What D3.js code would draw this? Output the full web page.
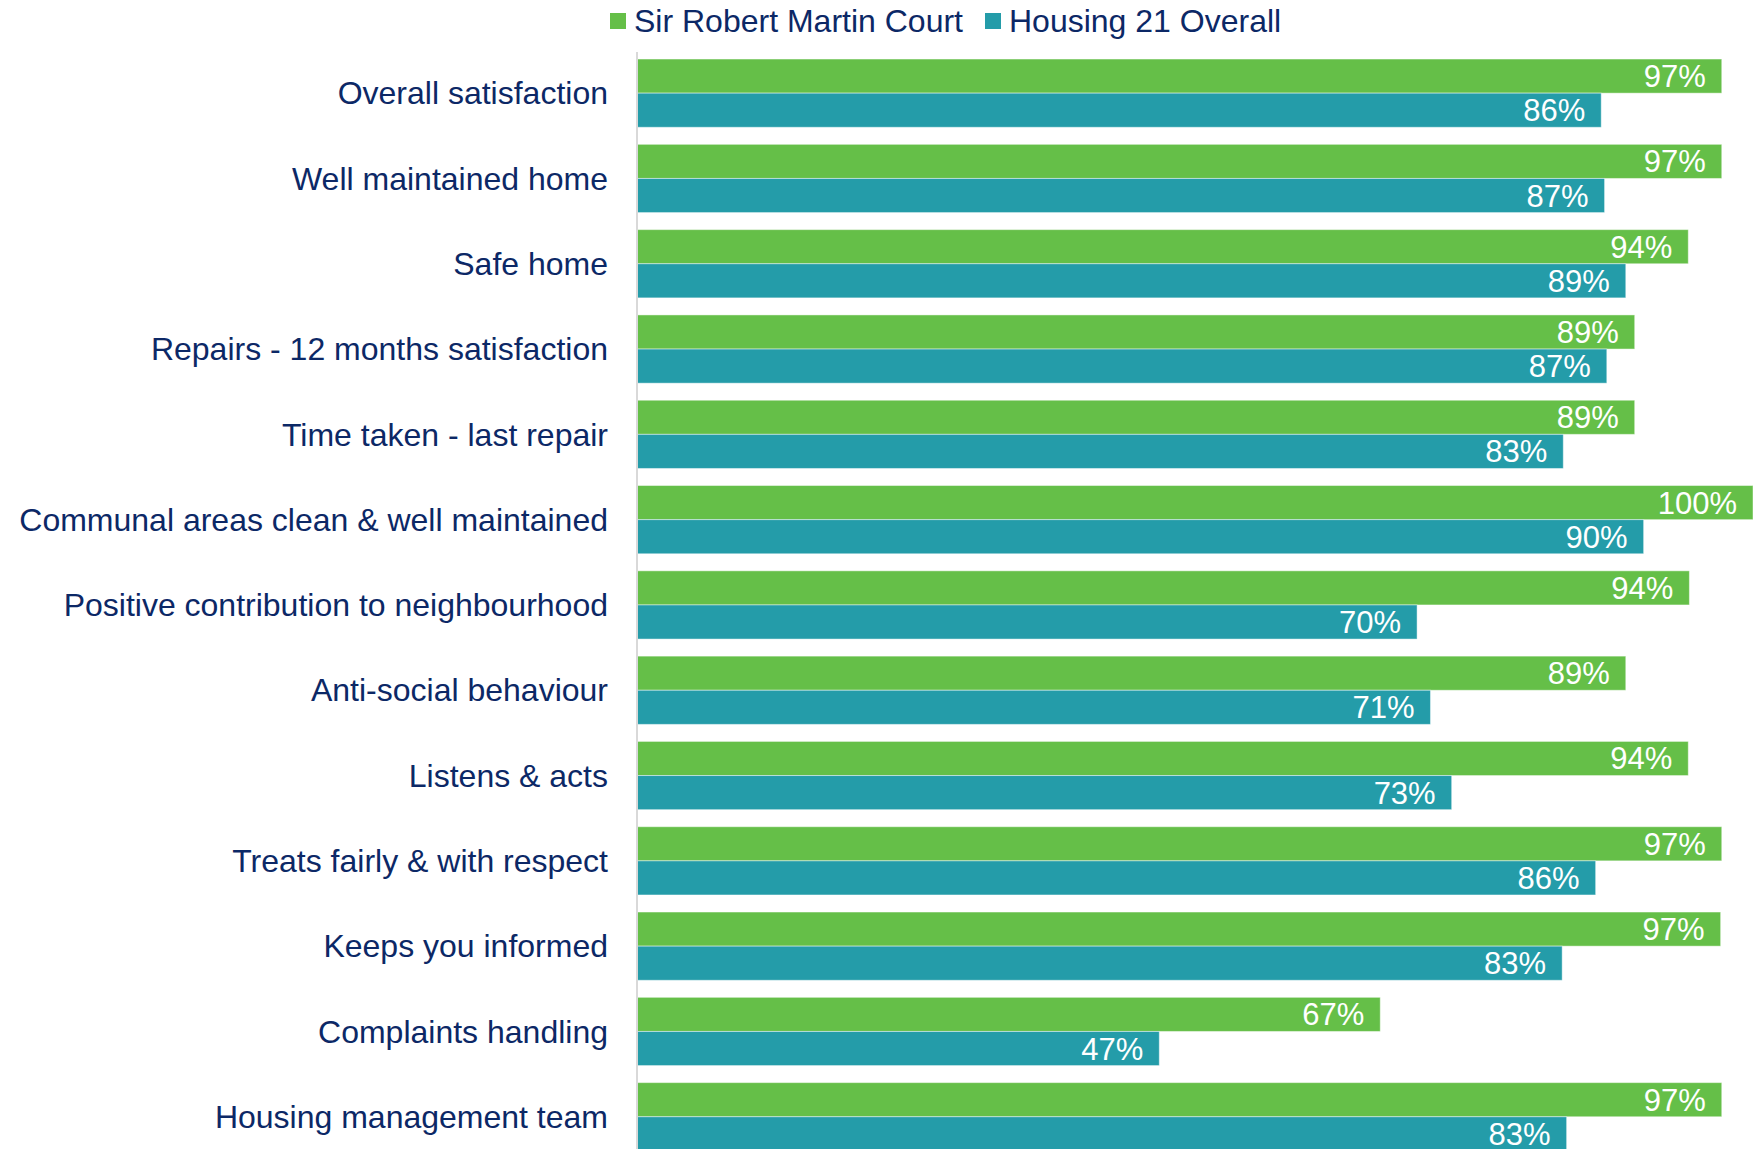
<!DOCTYPE html>
<html>
<head>
<meta charset="utf-8">
<script src="https://cdn.jsdelivr.net/npm/d3@7"></script>
<style>
  body { margin: 0; background: #fff; }
  svg { display: block; font-family: "Liberation Sans", Arial, sans-serif; }
</style>
</head>
<body>
<div id="chart"></div>
<script>
// --------------------
// DATA
// --------------------
const categories = [
  "Overall satisfaction",
  "Well maintained home",
  "Safe home",
  "Repairs - 12 months satisfaction",
  "Time taken - last repair",
  "Communal areas clean & well maintained",
  "Positive contribution to neighbourhood",
  "Anti-social behaviour",
  "Listens & acts",
  "Treats fairly & with respect",
  "Keeps you informed",
  "Complaints handling",
  "Housing management team"
];

const seriesNames = ["Sir Robert Martin Court", "Housing 21 Overall"];

const courtValues = [97.2, 97.2, 94.2, 89.4, 89.4, 100, 94.3, 88.6, 94.2, 97.2, 97.1, 66.6, 97.2];
const overallValues = [86.4, 86.7, 88.6, 86.9, 83.0, 90.2, 69.9, 71.1, 73.0, 85.9, 82.9, 46.8, 83.3];

const colors = ["#65bf48", "#249ca9"];
const textColor = "#0c2866";

// --------------------
// CHART
// --------------------
const width = 1762;
const height = 1149;

const svg = d3.select("#chart")
  .append("svg")
  .attr("width", width)
  .attr("height", height);

const x = d3.scaleLinear()
  .domain([0, 100])
  .range([637, 1753]);

const y = d3.scaleBand()
  .domain(categories)
  .range([50.5, 50.5 + 13 * 85.3])
  .paddingInner(0.2)
  .paddingOuter(0.1);

const inner = d3.scaleBand()
  .domain(seriesNames)
  .range([0, y.bandwidth()]);

const rows = categories.map((c, i) => ({
  category: c,
  values: [courtValues[i], overallValues[i]]
}));

const groups = svg.append("g")
  .selectAll("g")
  .data(rows)
  .join("g")
  .attr("transform", d => `translate(0,${y(d.category)})`);

groups.selectAll("rect")
  .data(d => d.values.map((v, k) => ({ series: seriesNames[k], k, v })))
  .join("rect")
  .attr("x", x(0))
  .attr("y", d => inner(d.series))
  .attr("width", d => x(d.v) - x(0))
  .attr("height", inner.bandwidth())
  .attr("fill", d => colors[d.k])
  .attr("stroke", "#ffffff")
  .attr("stroke-opacity", 0.45)
  .attr("stroke-width", 1);

// value labels
groups.selectAll("text.value")
  .data(d => d.values.map((v, k) => ({ series: seriesNames[k], k, v })))
  .join("text")
  .attr("class", "value")
  .attr("x", d => x(d.v) - 16)
  .attr("y", d => inner(d.series) + inner.bandwidth() / 2 + 11)
  .attr("text-anchor", "end")
  .attr("fill", "#ffffff")
  .style("font-size", "31px")
  .text(d => Math.round(d.v) + "%");

// Axis (category labels)
const yAxis = svg.append("g")
  .attr("transform", `translate(${x(0)},0)`)
  .call(d3.axisLeft(y).tickSize(0).tickPadding(29));

yAxis.select(".domain")
  .attr("d", `M0,52V${height}`)
  .attr("stroke", "#d9d9d9")
  .attr("stroke-width", 2);

yAxis.selectAll("text")
  .attr("fill", textColor)
  .style("font-size", "32px")
  .style("font-family", "'Liberation Sans', Arial, sans-serif")
  .attr("dy", "0.35em");

// --------------------
// LEGEND
// --------------------
const legendItems = [
  { name: seriesNames[0], color: colors[0], x: 610 },
  { name: seriesNames[1], color: colors[1], x: 985 }
];

const legend = svg.append("g");

legend.selectAll("rect")
  .data(legendItems)
  .join("rect")
  .attr("x", d => d.x)
  .attr("y", 13)
  .attr("width", 16)
  .attr("height", 16)
  .attr("fill", d => d.color);

legend.selectAll("text")
  .data(legendItems)
  .join("text")
  .attr("x", d => d.x + 24)
  .attr("y", 32)
  .attr("fill", textColor)
  .style("font-size", "32px")
  .text(d => d.name);
</script>
</body>
</html>
